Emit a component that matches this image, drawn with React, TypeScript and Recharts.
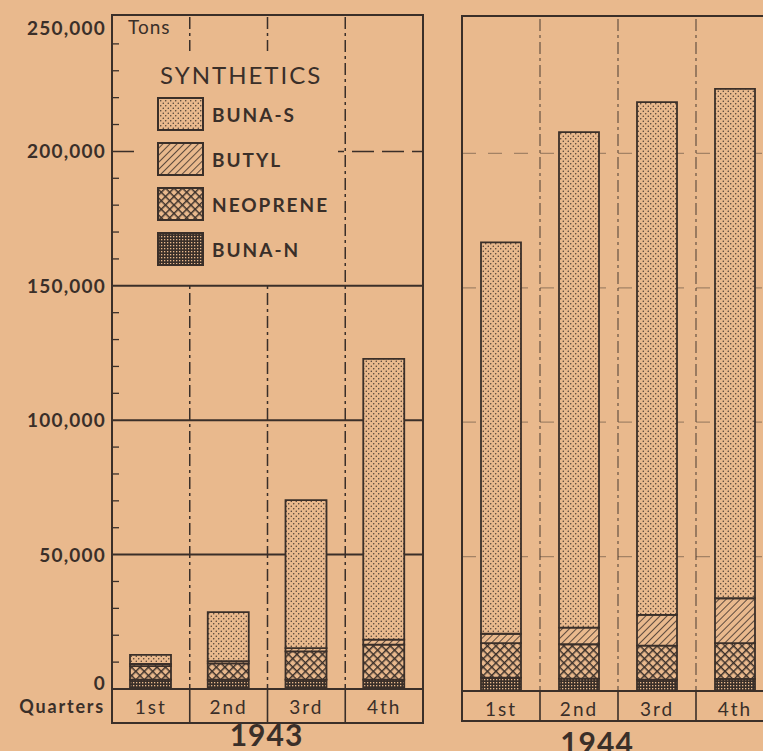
import React from 'react';
import { BarChart, Bar, XAxis, YAxis, CartesianGrid, Legend } from 'recharts';

// synthetic rubber production, tons per quarter
const QUARTERS = ['1st', '2nd', '3rd', '4th'];

const BUNA_N_1943 = [3500, 3500, 3500, 3500];
const NEOPRENE_1943 = [5000, 6000, 10500, 13000];
const BUTYL_1943 = [800, 900, 1200, 1900];
const BUNA_S_1943 = [3400, 18200, 55100, 104400];

const BUNA_N_1944 = [5000, 4600, 4200, 4500];
const NEOPRENE_1944 = [12800, 12800, 12700, 13300];
const BUTYL_1944 = [3500, 6200, 11400, 16700];
const BUNA_S_1944 = [145600, 184300, 190800, 189500];

const Y_TICKS = [
  0, 10000, 20000, 30000, 40000, 50000, 60000, 70000, 80000, 90000, 100000,
  110000, 120000, 130000, 140000, 150000, 160000, 170000, 180000, 190000, 200000,
  210000, 220000, 230000, 240000, 250000,
];
const SOLID_GRID = [50000, 100000, 150000];
const DASHED_GRID = [200000];

const SERIES = [
  { key: 'bunaN', name: 'BUNA-N', pattern: 'pat-buna-n' },
  { key: 'neoprene', name: 'NEOPRENE', pattern: 'pat-neoprene' },
  { key: 'butyl', name: 'BUTYL', pattern: 'pat-butyl' },
  { key: 'bunaS', name: 'BUNA-S', pattern: 'pat-buna-s' },
];

const build = (n: number[], neo: number[], bu: number[], s: number[]) =>
  QUARTERS.map((q, i) => ({ quarter: q, bunaN: n[i], neoprene: neo[i], butyl: bu[i], bunaS: s[i] }));

const data1943 = build(BUNA_N_1943, NEOPRENE_1943, BUTYL_1943, BUNA_S_1943);
const data1944 = build(BUNA_N_1944, NEOPRENE_1944, BUTYL_1944, BUNA_S_1944);

const PAPER = '#e9b98d';
const INK = '#3a2f29';
const FONT = 'Lato, "Open Sans", sans-serif';

const H = 751;
// left panel
const L_W = 430;
const L_YW = 112;
const L_MARGIN = { top: 17, right: 7, left: 0, bottom: 0 };
const L_XH = 62;
const L_BAND = (L_W - L_YW - L_MARGIN.right) / 4;
// right panel
const R_LEFT = 462;
const R_W = 320;
const R_MARGIN = { top: 19, right: 8, left: 0, bottom: 0 };
const R_XH = 60;
const R_BAND = (R_W - R_MARGIN.right) / 4;

const Patterns = () => (
  <svg width={0} height={0} style={{ position: 'absolute' }}>
    <defs>
      <pattern id="pat-buna-s" width={5} height={5} patternUnits="userSpaceOnUse">
        <rect width={5} height={5} fill={PAPER} />
        <circle cx={1.25} cy={1.25} r={0.7} fill={INK} />
        <circle cx={3.75} cy={3.75} r={0.7} fill={INK} />
      </pattern>
      <pattern id="pat-butyl" width={5} height={5} patternUnits="userSpaceOnUse" patternTransform="rotate(45)">
        <rect width={5} height={5} fill={PAPER} />
        <line x1={0.5} y1={0} x2={0.5} y2={5} stroke={INK} strokeWidth={0.8} />
      </pattern>
      <pattern id="pat-neoprene" width={6} height={6} patternUnits="userSpaceOnUse" patternTransform="rotate(45)">
        <rect width={6} height={6} fill={PAPER} />
        <line x1={0.7} y1={0} x2={0.7} y2={6} stroke={INK} strokeWidth={1.5} />
        <line x1={0} y1={0.7} x2={6} y2={0.7} stroke={INK} strokeWidth={1.5} />
      </pattern>
      <pattern id="pat-buna-n" width={3} height={3} patternUnits="userSpaceOnUse">
        <rect width={3} height={3} fill={INK} />
        <rect x={1} y={1} width={1.3} height={1.3} fill={PAPER} />
      </pattern>
    </defs>
  </svg>
);

const YTick = (props: any) => {
  const { x, y, payload } = props;
  const v = payload.value;
  if (v % 50000 !== 0) {
    return <line x1={x} x2={x + 7} y1={y} y2={y} stroke={INK} strokeWidth={1.3} />;
  }
  let dy = 7;
  if (v === 250000) dy = 18;
  if (v === 0) dy = 1;
  return (
    <text x={x - 6} y={y + dy} textAnchor="end" fill={INK} fontFamily={FONT} fontSize={19} fontWeight={700} letterSpacing={1.2}>
      {v.toLocaleString('en-US')}
    </text>
  );
};

const makeQuarterTick = (band: number, rowH: number, withTitle: boolean) => (props: any) => {
  const { x, y, payload, index } = props;
  return (
    <g>
      {index > 0 && (
        <line x1={x - band / 2} x2={x - band / 2} y1={y} y2={y + rowH} stroke={INK} strokeWidth={1.6} />
      )}
      {withTitle && index === 0 && (
        <text x={x - band / 2 - 7} y={y + 24} textAnchor="end" fill={INK} fontFamily={FONT} fontSize={18} fontWeight={700} letterSpacing={1.8}>
          Quarters
        </text>
      )}
      <text x={x} y={y + 25} textAnchor="middle" fill={INK} fontFamily={FONT} fontSize={19} letterSpacing={2}>
        {payload.value}
      </text>
    </g>
  );
};

const makeYearLabel = (year: string, shift: number, baseline: number) => (props: any) => {
  const vb = props.viewBox;
  return (
    <text x={vb.x + vb.width / 2 + shift} y={vb.y + baseline} textAnchor="middle" fill={INK} fontFamily={FONT} fontSize={30} fontWeight={700} letterSpacing={1}>
      {year}
    </text>
  );
};

const renderLegend = () => (
  <div style={{ position: 'relative', width: 300, height: 270, fontFamily: FONT, color: INK }}>
    {/* the key box sits over the grid, hiding it */}
    <div style={{ position: 'absolute', left: 27, top: 36, width: 198, height: 232, background: PAPER }} />
    <div style={{ position: 'absolute', left: 15, top: 0, fontSize: 19, letterSpacing: 1 }}>Tons</div>
    <div style={{ position: 'absolute', left: 47, top: 45, fontSize: 24, letterSpacing: 2 }}>SYNTHETICS</div>
    {[...SERIES].reverse().map((s, i) => (
      <div key={s.key} style={{ position: 'absolute', left: 44, top: 82 + i * 45, display: 'flex', alignItems: 'center' }}>
        <svg width={47} height={34}>
          <rect x={1} y={1} width={45} height={32} fill={`url(#${s.pattern})`} stroke={INK} strokeWidth={2} />
        </svg>
        <span style={{ marginLeft: 8, fontWeight: 700, fontSize: 19, letterSpacing: 2 }}>{s.name}</span>
      </div>
    ))}
  </div>
);

const frame = (left: number, top: number, width: number, height: number): React.CSSProperties => ({
  position: 'absolute',
  left,
  top,
  width,
  height,
  border: `2px solid ${INK}`,
  boxSizing: 'border-box',
  pointerEvents: 'none',
});

export default function App() {
  const lx0 = L_YW;
  const rx0 = 0;
  return (
    <div style={{ position: 'absolute', left: 0, top: 0, width: 763, height: H, overflow: 'hidden', background: PAPER }}>
      <Patterns />

      <div style={{ position: 'absolute', left: 0, top: 0 }}>
        <BarChart width={L_W} height={H} data={data1943} margin={L_MARGIN} barSize={41}>
          <CartesianGrid
            horizontal={false}
            verticalPoints={[1, 2, 3].map((i) => lx0 + i * L_BAND)}
            stroke={INK}
            strokeWidth={1.5}
            strokeDasharray="12 4 3 4"
          />
          <CartesianGrid vertical={false} horizontalValues={SOLID_GRID} stroke={INK} strokeWidth={2} />
          <CartesianGrid vertical={false} horizontalValues={DASHED_GRID} stroke={INK} strokeWidth={1.5} strokeDasharray="22 8" />
          <XAxis
            dataKey="quarter"
            height={L_XH}
            tickSize={0}
            tickMargin={0}
            tickLine={false}
            axisLine={{ stroke: INK, strokeWidth: 2 }}
            tick={makeQuarterTick(L_BAND, 34, true)}
            interval={0}
            label={{ content: makeYearLabel('1943', -1, 57) }}
          />
          <YAxis
            width={L_YW}
            domain={[0, 250000]}
            ticks={Y_TICKS}
            interval={0}
            tickSize={0}
            tickMargin={0}
            tickLine={false}
            axisLine={{ stroke: INK, strokeWidth: 2 }}
            tick={<YTick />}
            allowDataOverflow
          />
          <Legend
            layout="horizontal"
            verticalAlign="middle"
            align="center"
            content={renderLegend}
            wrapperStyle={{ position: 'absolute', left: 113, top: 15, width: 300, height: 270 }}
          />
          {SERIES.map((s) => (
            <Bar
              key={s.key}
              dataKey={s.key}
              name={s.name}
              stackId="a"
              fill={`url(#${s.pattern})`}
              stroke={INK}
              strokeWidth={1.8}
              isAnimationActive={false}
            />
          ))}
        </BarChart>
        <div style={frame(111, 14, 313, 710)} />
      </div>

      <div style={{ position: 'absolute', left: R_LEFT, top: 0 }}>
        <BarChart width={R_W} height={H} data={data1944} margin={R_MARGIN} barSize={40}>
          <CartesianGrid
            horizontal={false}
            verticalPoints={[1, 2, 3].map((i) => rx0 + i * R_BAND)}
            stroke={INK}
            strokeOpacity={0.75}
            strokeWidth={1.2}
            strokeDasharray="12 4 3 4"
          />
          <CartesianGrid
            vertical={false}
            horizontalValues={[...SOLID_GRID, ...DASHED_GRID]}
            stroke={INK}
            strokeOpacity={0.4}
            strokeWidth={1.2}
            strokeDasharray="14 12"
          />
          <XAxis
            dataKey="quarter"
            height={R_XH}
            tickSize={0}
            tickMargin={0}
            tickLine={false}
            axisLine={{ stroke: INK, strokeWidth: 2 }}
            tick={makeQuarterTick(R_BAND, 31, false)}
            interval={0}
            label={{ content: makeYearLabel('1944', -21, 63) }}
          />
          <YAxis hide domain={[0, 250000]} allowDataOverflow />
          {SERIES.map((s) => (
            <Bar
              key={s.key}
              dataKey={s.key}
              name={s.name}
              stackId="a"
              fill={`url(#${s.pattern})`}
              stroke={INK}
              strokeWidth={1.8}
              isAnimationActive={false}
            />
          ))}
        </BarChart>
        <div style={frame(-1, 15, 320, 707)} />
      </div>
    </div>
  );
}
